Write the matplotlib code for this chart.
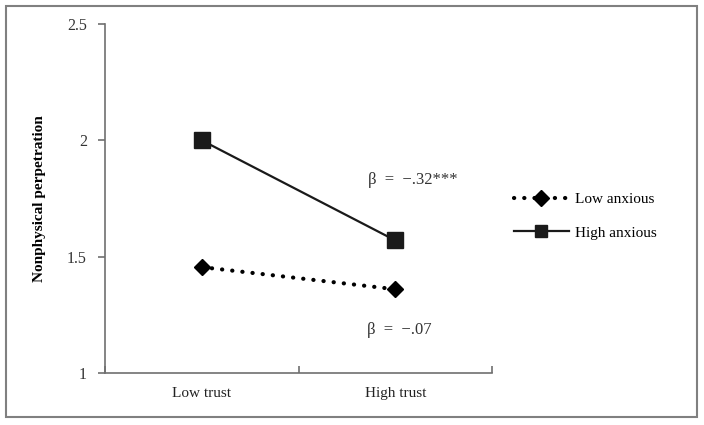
import matplotlib
matplotlib.use("Agg")
import matplotlib.pyplot as plt
from matplotlib.patches import Rectangle
from matplotlib.lines import Line2D

categories = ["Low trust", "High trust"]
low_anxious = [1.455, 1.36]
high_anxious = [2.0, 1.57]
yticks = [1, 1.5, 2, 2.5]
ytick_labels = ["1", "1.5", "2", "2.5"]
series_names = ["Low anxious", "High anxious"]
annot_high = "β = −.32***"
annot_low = "β = −.07"

plt.rcParams['font.family'] = ['Liberation Serif', 'DejaVu Serif']

fig = plt.figure(figsize=(7.04, 4.25), dpi=100)
W, H = 704, 425
ax = fig.add_axes([105 / W, 1 - 373 / H, (492 - 105) / W, (373 - 24) / H])

dot_style = (0, (0.05, 2.4))
xpos = [0.5, 1.5]
ax.plot(xpos, low_anxious, color='black', linestyle=dot_style, linewidth=3.0,
        dash_capstyle='round', marker='D', markersize=8, zorder=3)
ax.plot(xpos, high_anxious, color='#1a1a1a', linestyle='-', linewidth=1.6,
        marker='s', markersize=11, zorder=3)

ax.set_xlim(0, 2)
ax.set_ylim(1, 2.5)
ax.set_yticks(yticks)
ax.set_yticklabels(ytick_labels)
ax.set_xticks([0, 1, 2])
ax.set_xticklabels([])
ax.set_xticks(xpos, minor=True)
ax.set_xticklabels(categories, minor=True)
ax.tick_params(axis='x', which='minor', length=0, pad=10, labelsize=11, colors='#222222')
ax.tick_params(axis='x', which='major', length=5, direction='in', color='#707070', width=1.2)
ax.tick_params(axis='y', length=5, direction='out', color='#707070', width=1.2,
               labelsize=11.5, labelcolor='#333333', pad=8)

for s in ['top', 'right']:
    ax.spines[s].set_visible(False)
for s in ['left', 'bottom']:
    ax.spines[s].set_color('#707070')
    ax.spines[s].set_linewidth(1.2)

ax.set_ylabel("Nonphysical perpetration", fontsize=11, fontweight='bold', labelpad=15)

ax.text(1.36, 1.828, annot_high.replace(" ", "  "), fontsize=12, color='#333333', va='center', ha='left')
ax.text(1.355, 1.184, annot_low.replace(" ", "  "), fontsize=12, color='#333333', va='center', ha='left')

handles = [
    Line2D([0], [0], color='black', linestyle=dot_style, linewidth=3.0,
           dash_capstyle='round', marker='D', markersize=8),
    Line2D([0], [0], color='#1a1a1a', linestyle='-', linewidth=1.6,
           marker='s', markersize=9),
]
fig.legend(handles, series_names, loc='center left', bbox_to_anchor=(500 / W, 1 - 216 / H),
           frameon=False, fontsize=11, handlelength=3.6, labelspacing=1.3, handletextpad=0.4)

fig.patches.append(Rectangle((6 / W, 1 - 417 / H), (697 - 6) / W, (417 - 6) / H,
                             transform=fig.transFigure, fill=False,
                             edgecolor='#808080', linewidth=1.5))

fig.savefig("out.png", dpi=100)
